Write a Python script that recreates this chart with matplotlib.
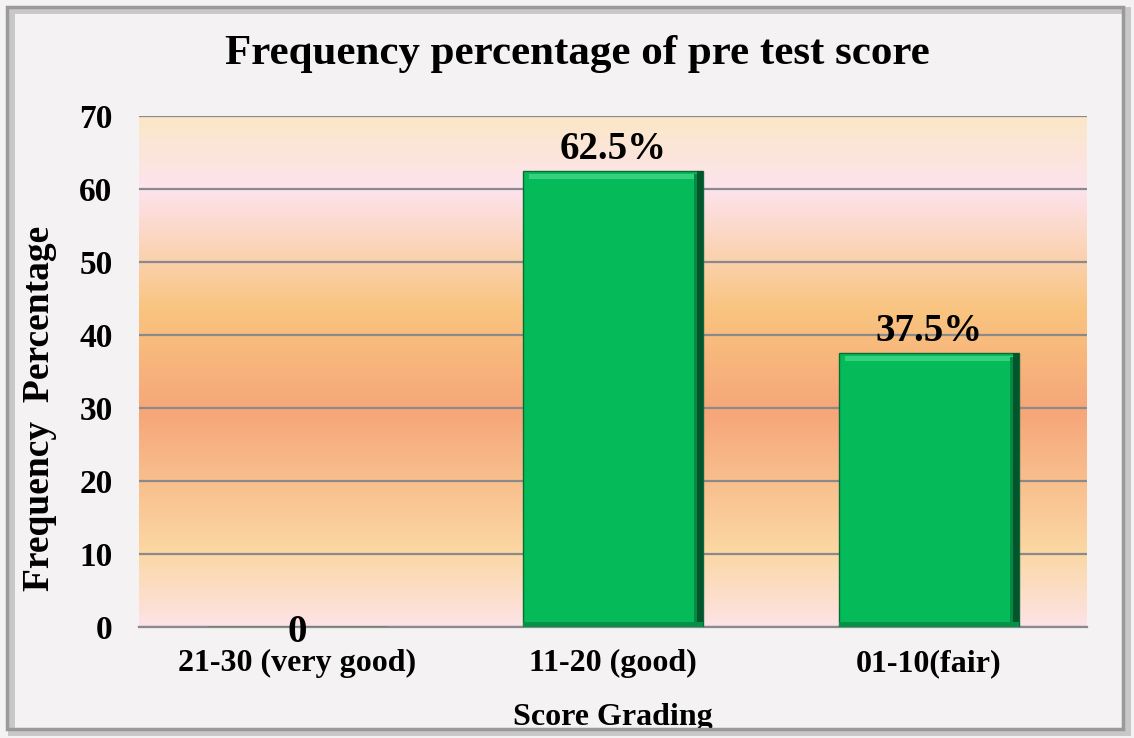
import numpy as np
import matplotlib.pyplot as plt
from matplotlib.colors import LinearSegmentedColormap
from matplotlib.patches import Rectangle

# data
grades = ["21-30 (very good)", "11-20 (good)", "01-10(fair)"]
percent = [0, 62.5, 37.5]
bar_labels = ["0", "62.5%", "37.5%"]
y_ticks = [0, 10, 20, 30, 40, 50, 60, 70]

plt.rcParams["font.family"] = ["Liberation Serif", "DejaVu Serif"]
plt.rcParams["font.weight"] = "bold"

fig = plt.figure(figsize=(11.34, 7.38), dpi=100)
fig.patch.set_facecolor("#f4f2f3")

# outer frame with a soft shadow
fig.patches.append(Rectangle((0.010, 0.008), 0.984, 0.978, transform=fig.transFigure,
                             fill=False, edgecolor="#c8c8c8", linewidth=5))
fig.patches.append(Rectangle((0.006, 0.012), 0.984, 0.978, transform=fig.transFigure,
                             fill=False, edgecolor="#9a9a9a", linewidth=2.5))

ax = fig.add_axes([139 / 1134, 1 - 627 / 738, 948 / 1134, 511 / 738])

# vertical gradient background (bottom -> top)
bg = LinearSegmentedColormap.from_list("bg", [
    (0.0, "#fde3e6"),
    (0.15, "#fbd7a2"),
    (0.42, "#f6a679"),
    (0.62, "#f9c47f"),
    (0.86, "#fde3ee"),
    (1.0, "#fbe7c6"),
])
grad = np.linspace(0, 1, 256).reshape(-1, 1)
ax.imshow(grad, cmap=bg, aspect="auto", origin="lower",
          extent=[-0.5, 2.5, 0, 70], zorder=0)

x = np.arange(len(grades))
w = 0.57
ax.set_axisbelow(True)
ax.yaxis.grid(True, color="#8a8a8a", linewidth=1.6, zorder=1)
ax.bar(x, percent, width=w, color="#05ba58", edgecolor="#0b6a36", linewidth=1, zorder=3)
# bevel: light top rim, dark right side, darker base
for xi, v in zip(x, percent):
    if v > 0:
        ax.bar(xi, 0.7, bottom=v - 1.1, width=w - 0.04, color="#34d27e", linewidth=0, zorder=4)
        ax.bar(xi + w / 2 - 0.009, v, width=0.018, color="#05552c", linewidth=0, zorder=4)
        ax.bar(xi + w / 2 - 0.024, v - 0.5, width=0.012, color="#048a42", linewidth=0, zorder=4)
        ax.bar(xi, 0.7, bottom=0, width=w, color="#049148", linewidth=0, zorder=4)

for xi, v, lab in zip(x, percent, bar_labels):
    if v > 0:
        ax.text(xi, v + 0.4, lab, ha="center", va="bottom", fontsize=28, fontweight="bold", zorder=5)
    else:
        ax.text(xi, v - 0.8, lab, ha="center", va="center", fontsize=28, fontweight="bold",
                zorder=5, clip_on=False)

ax.set_xlim(-0.5, 2.5)
ax.set_ylim(0, 70)
ax.set_yticks(y_ticks)
ax.set_xticks(x)
ax.set_xticklabels(grades)
ax.tick_params(axis="both", length=0)
ax.tick_params(axis="y", labelsize=24, pad=19)
ax.tick_params(axis="x", labelsize=23, pad=16)
for s in ["top", "right", "left"]:
    ax.spines[s].set_visible(False)
ax.spines["bottom"].set_color("#8a8a8a")
ax.spines["bottom"].set_linewidth(1.6)

ax.set_xlabel("Score Grading", fontsize=23, fontweight="bold", labelpad=18)
ax.set_ylabel("Frequency  Percentage", fontsize=27, fontweight="bold")
ax.yaxis.set_label_coords(-0.086, 0.427)
fig.text(577 / 1134, 1 - 54 / 738, "Frequency percentage of pre test score",
         ha="center", va="center", fontsize=31, fontweight="bold")

plt.savefig("out.png", dpi=100, facecolor=fig.get_facecolor())
